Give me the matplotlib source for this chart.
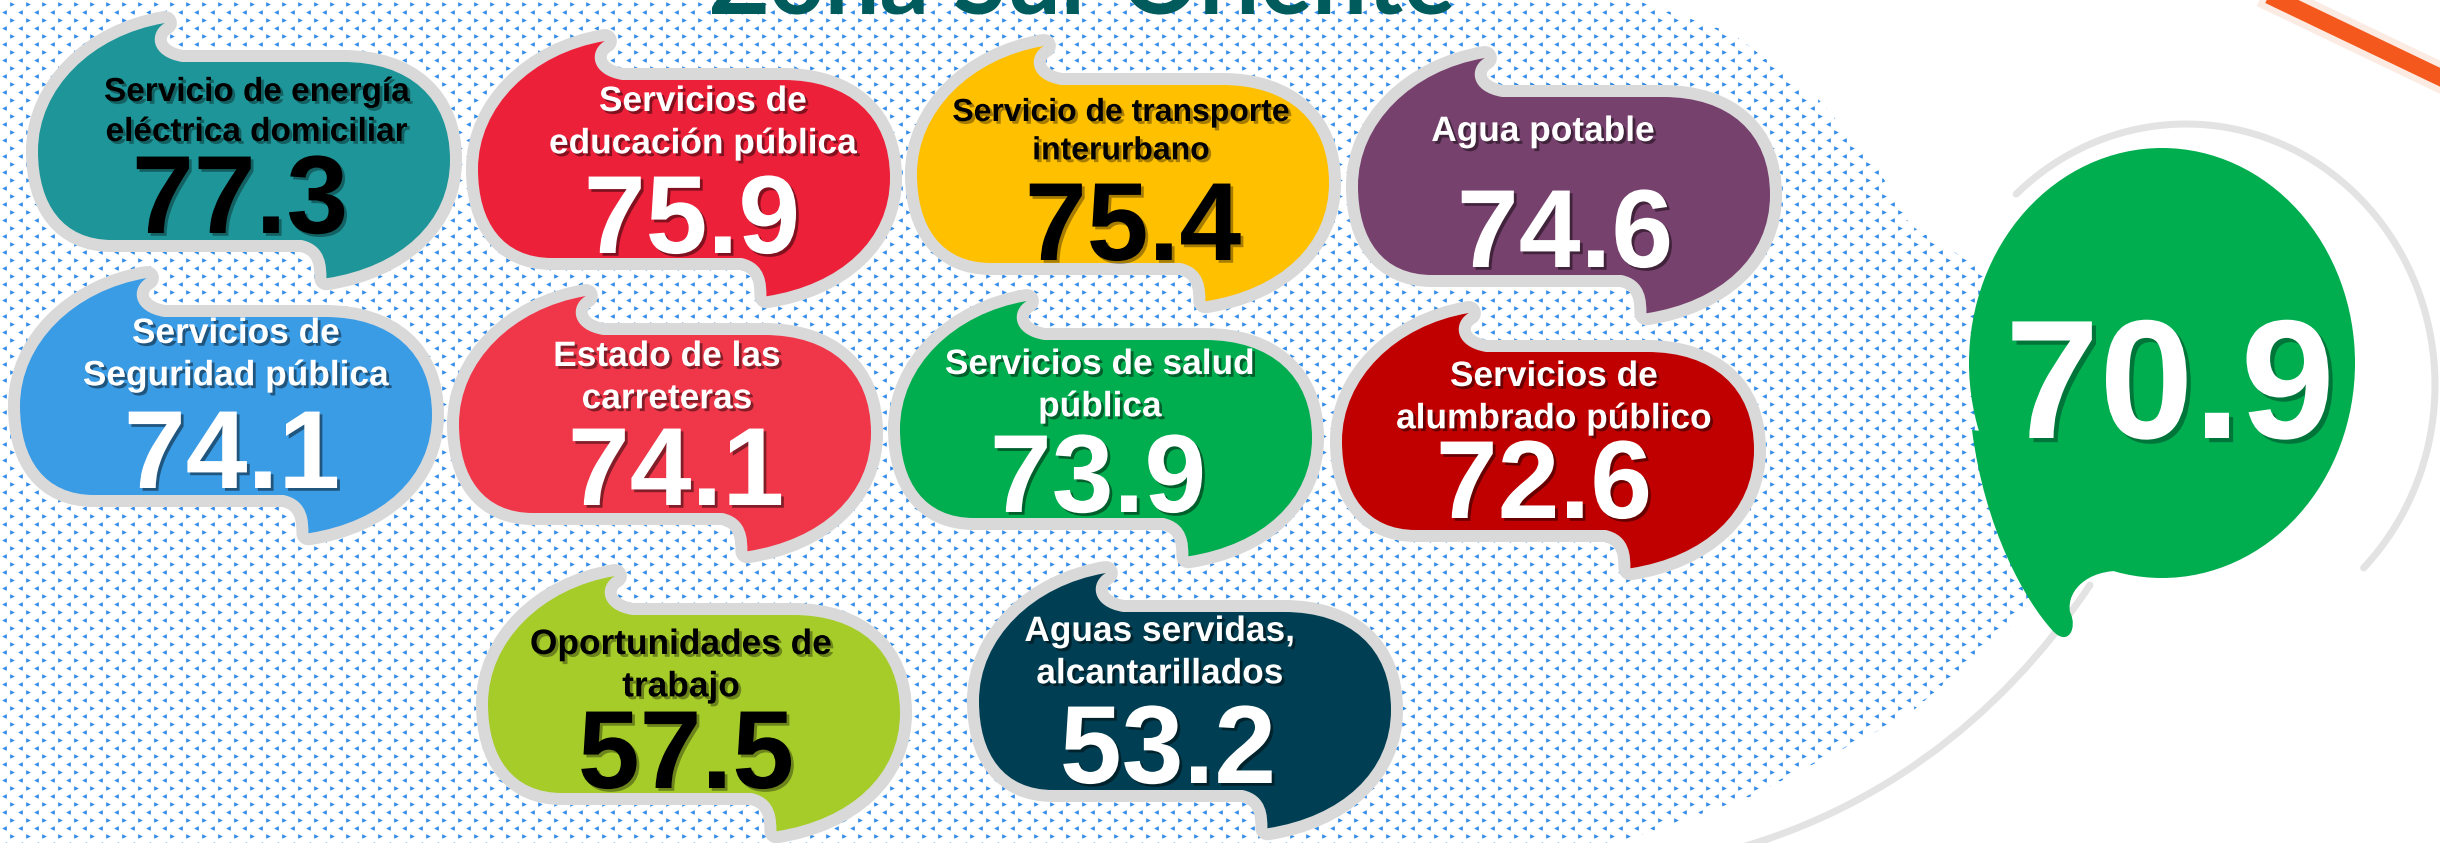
import numpy as np
import matplotlib
matplotlib.use("Agg")
import matplotlib.pyplot as plt
from matplotlib.path import Path
from matplotlib.patches import PathPatch, Ellipse, Polygon
import matplotlib.patheffects as pe

# ---- data ----
title = "Zona Sur Oriente"
labels = [
    "Servicio de energía\neléctrica domiciliar",
    "Servicios de\neducación pública",
    "Servicio de transporte\ninterurbano",
    "Agua potable",
    "Servicios de\nSeguridad pública",
    "Estado de las\ncarreteras",
    "Servicios de salud\npública",
    "Servicios de\nalumbrado público",
    "Oportunidades de\ntrabajo",
    "Aguas servidas,\nalcantarillados",
]
values = [77.3, 75.9, 75.4, 74.6, 74.1, 74.1, 73.9, 72.6, 57.5, 53.2]
overall = 70.9

# ---- styles / layout (pixels, y down) ----
fill_colors = ["#1e9598", "#ed203a", "#ffc000", "#77416e", "#3b9ce6",
               "#f0374a", "#00ad4f", "#c00000", "#a6cc2a", "#003f53"]
text_colors = ["black", "white", "black", "white", "white",
               "white", "white", "white", "black", "white"]
bubble_xy = [(38, 62), (478, 80), (917, 85), (1358, 97), (20, 317),
             (459, 335), (900, 340), (1342, 352), (488, 615), (979, 612)]
label_xy = [(257, 101), (703, 111), (1121, 121), (1543, 141), (236, 343),
            (667, 366), (1100, 374), (1554, 386), (681, 654), (1160, 641)]
label_size = [24, 25.4, 23, 25.4, 25.4, 25.4, 25.4, 25.4, 25.4, 25.4]
num_xy = [(240, 233), (692, 253), (1133, 260), (1565, 267), (232, 488),
          (676, 505), (1098, 512), (1544, 518), (686, 788), (1168, 783)]
BW, BH = 412, 178
GREY = "#d9d9d9"
PX = 0.72  # points per pixel at dpi 100

shape = [
    (Path.MOVETO, (0.308, -0.219)),
    (Path.CURVE4, (0.27, -0.17)), (Path.CURVE4, (0.27, -0.03)), (Path.CURVE4, (0.35, 0.0)),
    (Path.LINETO, (0.74, 0.0)),
    (Path.CURVE4, (0.90, 0.0)), (Path.CURVE4, (1.0, 0.2)), (Path.CURVE4, (1.0, 0.55)),
    (Path.CURVE4, (1.0, 0.90)), (Path.CURVE4, (0.88, 1.15)), (Path.CURVE4, (0.70, 1.215)),
    (Path.CURVE4, (0.70, 1.15)), (Path.CURVE4, (0.70, 1.03)), (Path.CURVE4, (0.64, 1.0)),
    (Path.LINETO, (0.18, 1.0)),
    (Path.CURVE4, (0.06, 1.0)), (Path.CURVE4, (0.0, 0.80)), (Path.CURVE4, (0.0, 0.50)),
    (Path.CURVE4, (0.0, 0.15)), (Path.CURVE4, (0.13, -0.15)), (Path.CURVE4, (0.308, -0.219)),
    (Path.CLOSEPOLY, (0.308, -0.219)),
]
codes = [c for c, _ in shape]
unit = np.array([p for _, p in shape])


def bubble_path(x0, y0):
    return Path(unit * [BW, BH] + [x0, y0], codes)


fig = plt.figure(figsize=(24.4, 8.43), dpi=100)
ax = fig.add_axes([0, 0, 1, 1])
ax.set_xlim(0, 2440)
ax.set_ylim(843, 0)
ax.axis("off")

# dotted background texture
region = Polygon([(0, 0), (1635, 0), (1732, 33), (1819, 100), (1877, 167), (1910, 225),
                  (2003, 282), (2060, 350), (2070, 450), (2050, 560), (2020, 618),
                  (1908, 715), (1752, 796), (1618, 843), (0, 843)],
                 closed=True, transform=ax.transData, facecolor="none", edgecolor="none")
ax.add_patch(region)
gx, gy = np.meshgrid(np.arange(4, 2440, 16), np.arange(4, 843, 16))
for dx, dy, mk in [(8, 0, ">"), (0, 8, "<")]:
    sc = ax.scatter((gx + dx).ravel(), (gy + dy).ravel(), marker=mk, s=11,
                    color="#2f8ae8", linewidths=0, zorder=0)
    sc.set_clip_path(region)

# grey rings round the overall score
t = np.radians(np.linspace(-133, 44.5, 200))
ax.plot(2186 + 249 * np.cos(t), 385 + 261 * np.sin(t), color="#e3e3e3",
        lw=7 * PX, solid_capstyle="round", zorder=1)
low = Path([(2090, 585), (2000, 720), (1870, 820), (1700, 858)],
           [Path.MOVETO, Path.CURVE4, Path.CURVE4, Path.CURVE4])
ax.add_patch(PathPatch(low, facecolor="none", edgecolor="#e3e3e3", lw=7 * PX,
                       capstyle="round", zorder=1))

# orange stroke top right
ax.plot([2262, 2450], [-8, 82], color="#fbd9c8", lw=30 * PX, alpha=0.5, zorder=1)
ax.plot([2262, 2450], [-8, 82], color="#f4581c", lw=17 * PX, zorder=1)

# title (cut off at the top)
ax.text(1083, 13, title, ha="center", va="baseline", fontsize=70,
        fontweight="bold", family="Lato", color="#005b5c", zorder=2)

# bubbles
for i in range(len(values)):
    x0, y0 = bubble_xy[i]
    p = bubble_path(x0, y0)
    ax.add_patch(PathPatch(p, facecolor=GREY, edgecolor=GREY, lw=24 * PX,
                           joinstyle="round", zorder=3))
    ax.add_patch(PathPatch(p, facecolor=fill_colors[i], edgecolor="none", zorder=4))
    tc = text_colors[i]
    shadow = [pe.withSimplePatchShadow(offset=(2, -2), shadow_rgbFace="black",
                                       alpha=0.45 if tc == "white" else 0.35)]
    lx, ly = label_xy[i]
    gap = label_size[i] / PX * 1.2
    for k, line in enumerate(labels[i].split("\n")):
        ax.text(lx, ly + k * gap, line, ha="center", va="baseline",
                fontsize=label_size[i], fontweight="bold", family="Liberation Sans",
                color=tc, path_effects=shadow, zorder=5)
    nx, ny = num_xy[i]
    ax.text(nx, ny, f"{values[i]:.1f}", ha="center", va="baseline", fontsize=80,
            fontweight="bold", family="Liberation Sans", color=tc,
            path_effects=shadow, zorder=5)

# overall score bubble
green = "#00ae50"
ax.add_patch(Ellipse((2162, 363), 386, 430, facecolor=green, edgecolor="none", zorder=3))
tail = Path([(1972, 430), (1985, 530), (2025, 600), (2052, 630),
             (2068, 648), (2078, 628), (2070, 612),
             (2066, 590), (2090, 565), (2135, 572),
             (2150, 450), (1972, 430)],
            [Path.MOVETO, Path.CURVE4, Path.CURVE4, Path.CURVE4,
             Path.CURVE4, Path.CURVE4, Path.CURVE4,
             Path.CURVE4, Path.CURVE4, Path.CURVE4,
             Path.LINETO, Path.CLOSEPOLY])
ax.add_patch(PathPatch(tail, facecolor=green, edgecolor="none", zorder=3))
ax.text(2170, 438, f"{overall:.1f}", ha="center", va="baseline", fontsize=122,
        fontweight="bold", family="Liberation Sans", color="white",
        path_effects=[pe.withSimplePatchShadow(offset=(3, -3), shadow_rgbFace="#00502a",
                                               alpha=0.6)], zorder=5)

fig.savefig("out.png", dpi=100)
